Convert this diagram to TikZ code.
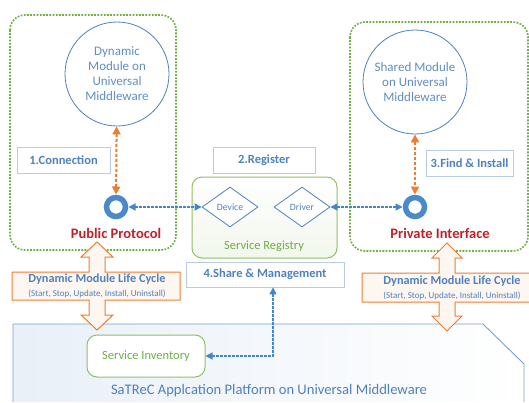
\documentclass[tikz,border=0pt]{standalone}
\usepackage{fontspec}
\setmainfont{Carlito}
\usetikzlibrary{shapes.geometric, arrows.meta, positioning, calc}
\definecolor{mwblue}{RGB}{79,129,189}
\definecolor{ringblue}{RGB}{74,138,203}
\definecolor{linkblue}{RGB}{66,133,205}
\definecolor{labelline}{RGB}{183,204,228}
\definecolor{mwgreen}{RGB}{112,173,71}
\definecolor{regreen}{RGB}{146,190,100}
\definecolor{lcorange}{RGB}{237,125,49}
\definecolor{protored}{RGB}{192,32,40}
\definecolor{platblue}{RGB}{120,160,210}

\begin{document}
\begin{tikzpicture}[x=1pt, y=-1pt,
        zone/.style={draw=mwgreen, line width=1.6pt, dash pattern=on 1.8pt off 1.4pt,
                     rounded corners=15pt},
        mwcircle/.style={circle, draw=mwblue, line width=0.8pt, fill=white,
                         minimum size=104pt, inner sep=0pt, align=center, text=mwblue!90,
                         font=\fontsize{13}{15}\selectfont},
        lbl/.style={draw=labelline, fill=white, line width=0.8pt, text=mwblue,
                    minimum height=26pt, inner sep=0pt,
                    font=\bfseries\fontsize{12.5}{14}\selectfont},
        ring/.style={circle, draw=ringblue, line width=5.5pt, minimum size=19pt,
                     inner sep=0pt, outer sep=3pt},
        proto/.style={text=protored, font=\bfseries\fontsize{14.5}{16}\selectfont},
        dev/.style={diamond, draw=mwblue, fill=white, line width=0.8pt, inner sep=0pt,
                    minimum width=56pt, minimum height=40pt, text=mwblue,
                    font=\fontsize{9.7}{11}\selectfont},
        greenbox/.style={draw=regreen, line width=1pt, rounded corners=10pt},
        lcshape/.style={draw=lcorange, line width=1pt, fill=lcorange!7},
        lctext/.style={align=center, text=mwblue, font=\bfseries\fontsize{12.3}{16}\selectfont},
        orarr/.style={{Triangle[length=8pt,width=8pt]}-{Triangle[length=8pt,width=8pt]},
                      lcorange, line width=2pt, dash pattern=on 3pt off 2pt},
        blarr/.style={{Triangle[length=7pt,width=7pt]}-{Triangle[length=7pt,width=7pt]},
                      linkblue, line width=1.3pt, dash pattern=on 2.5pt off 1.5pt}
      ]
        \useasboundingbox (0,0) rectangle (529,402);

        % platform
        \draw[draw=platblue, line width=0.9pt, left color=platblue!16, right color=white]
          (13,402) -- (13,324) -- (483,324) -- (524,364) -- (524,402);
        \node[text=mwblue, font=\fontsize{14.6}{16}\selectfont] (platform) at (269,391)
              {SaTReC Applcation Platform on Universal Middleware};
        \node[greenbox, fill=white, minimum width=118pt, minimum height=42pt,
              text=mwgreen, font=\fontsize{12.5}{14}\selectfont] (inventory) at (146,356)
              {Service Inventory};

        % public / private zones
        \draw[zone] (10,15) rectangle (176,250);
        \draw[zone] (350,22) rectangle (528,251);

        \node[mwcircle] (dynmod) at (117,74) {Dynamic\\Module on\\Universal\\Middleware};
        \node[mwcircle] (shmod) at (415,82) {Shared Module\\on Universal\\Middleware};

        \node[lbl, minimum width=93pt] (conn) at (63.5,160.5) {1.Connection};
        \node[lbl, minimum width=102pt] (reg) at (264,160) {2.Register};
        \node[lbl, minimum width=87pt] (find) at (469.5,163.5) {3.Find \& Install};
        \node[lbl, minimum width=158pt, minimum height=25pt] (share) at (265,274.5)
              {4.Share \& Management};

        \node[ring] (pubring) at (116,207) {};
        \node[ring] (privring) at (415,207) {};
        \node[proto] (pubtext) at (116,233) {Public Protocol};
        \node[proto] (privtext) at (440,233) {Private Interface};

        % registry
        \node[greenbox, top color=white, bottom color=regreen!12,
              minimum width=145pt, minimum height=81pt] (registry) at (264.5,217.5) {};
        \node[text=mwgreen, font=\fontsize{12.5}{14}\selectfont] (regtext) at (264,246)
              {Service Registry};
        \node[dev] (device) at (230,207) {Device};
        \node[dev] (driver) at (302,207) {Driver};

        % life cycle arrows
        \draw[lcshape] (97,242) -- (113,257) -- (105,257) -- (105,272) -- (180,272)
          -- (180,300) -- (105,300) -- (105,315) -- (113,315) -- (97,330) -- (81,315)
          -- (89,315) -- (89,300) -- (12,300) -- (12,272) -- (89,272) -- (89,257)
          -- (81,257) -- cycle;
        \node[lctext] (lcleft) at (97,286)
              {Dynamic Module Life Cycle\\[-2pt]{\mdseries\fontsize{9}{10}\selectfont
               (Start, Stop, Update, Install, Uninstall)}};
        \draw[lcshape] (447,243) -- (462,258) -- (455,258) -- (455,273) -- (545,273)
          -- (545,302) -- (455,302) -- (455,316) -- (462,316) -- (447,331) -- (432,316)
          -- (439,316) -- (439,302) -- (362,302) -- (362,273) -- (439,273) -- (439,258)
          -- (432,258) -- cycle;
        \node[lctext] (lcright) at (452,288)
              {Dynamic Module Life Cycle\\[-2pt]{\mdseries\fontsize{9}{10}\selectfont
               (Start, Stop, Update, Install, Uninstall)}};

        % connectors
        \draw[orarr] (dynmod) -- (pubring);
        \draw[orarr] (shmod) -- (privring);
        \draw[blarr] (pubring) -- (device);
        \draw[blarr] (driver) -- (privring);
        \draw[blarr] (inventory.east) -| ([xshift=8pt]share.south);
      \end{tikzpicture}
\end{document}
